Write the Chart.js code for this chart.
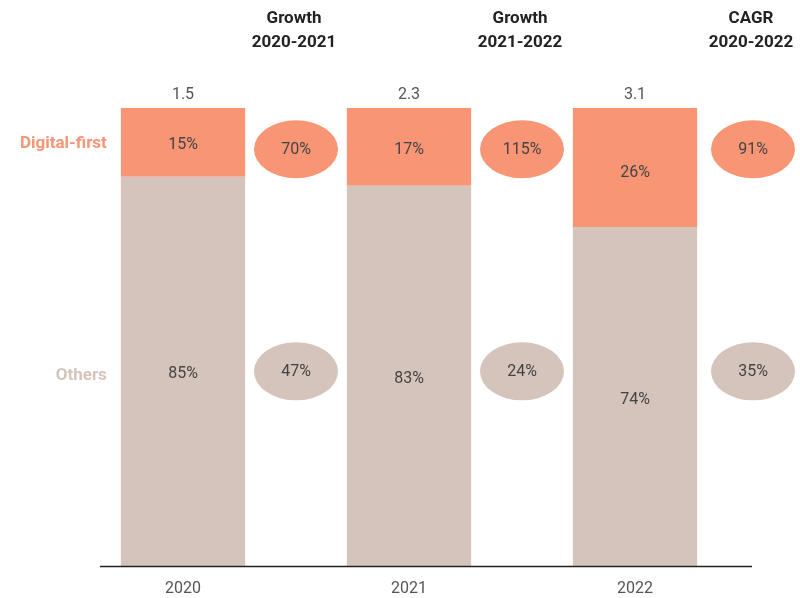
<!DOCTYPE html>
<html>
<head>
<meta charset="utf-8">
<script src="https://cdn.jsdelivr.net/npm/chart.js@4.4.0/dist/chart.umd.min.js"></script>
<style>
  body { margin: 0; background: #fff; }
  #wrap { width: 800px; height: 598px; position: relative; }
</style>
</head>
<body>
<div id="wrap"><canvas id="chart"></canvas></div>
<script>
const years = ['2020', '2021', '2022'];
const digitalShare = [15, 17, 26];
const othersShare = [85, 83, 74];
const totals = ['1.5', '2.3', '3.1'];
const headerTop = ['Growth', 'Growth', 'CAGR'];
const headerBottom = ['2020-2021', '2021-2022', '2020-2022'];
const digitalGrowth = ['70%', '115%', '91%'];
const othersGrowth = ['47%', '24%', '35%'];

const SALMON = '#F79575';
const TAN = '#D5C4BB';
const FONT = 'Roboto, "Liberation Sans", sans-serif';

const annotations = {
    id: 'annotations',
    afterDatasetsDraw(chart) {
        const ctx = chart.ctx;
        const x = chart.scales.x;
        const y = chart.scales.y;
        const area = chart.chartArea;
        const step = x.getPixelForValue(1) - x.getPixelForValue(0);

        ctx.save();
        ctx.textAlign = 'center';
        ctx.textBaseline = 'middle';

        // segment labels
        chart.data.datasets.forEach((ds, di) => {
            const meta = chart.getDatasetMeta(di);
            meta.data.forEach((bar, i) => {
                const mid = (bar.y + bar.base) / 2;
                ctx.fillStyle = '#444';
                ctx.font = '16px ' + FONT;
                ctx.fillText(ds.data[i] + '%', bar.x, mid + (di === 1 && i === 2 ? 5 : 3));
            });
        });

        // totals above bars
        years.forEach((_, i) => {
            ctx.fillStyle = '#555';
            ctx.font = '16px ' + FONT;
            ctx.fillText(totals[i], x.getPixelForValue(i), area.top - 13);
        });

        // growth headers and ellipses
        const rowDigital = y.getPixelForValue(91);
        const rowOthers = y.getPixelForValue(42.5);
        years.forEach((_, i) => {
            const cx = x.getPixelForValue(i) + step / 2 + (i === 2 ? 5 : 0);
            ctx.fillStyle = '#222';
            ctx.font = 'bold 17px ' + FONT;
            ctx.fillText(headerTop[i], cx - 2, 19);
            ctx.fillText(headerBottom[i], cx - 2, 43);

            [[rowDigital, SALMON, digitalGrowth[i]], [rowOthers, TAN, othersGrowth[i]]].forEach(([cy, col, txt]) => {
                ctx.beginPath();
                ctx.ellipse(cx, cy, 42, 29, 0, 0, Math.PI * 2);
                ctx.fillStyle = col;
                ctx.fill();
                ctx.fillStyle = '#444';
                ctx.font = '16px ' + FONT;
                ctx.fillText(txt, cx, cy + 1);
            });
        });

        // row labels on the left
        const first = chart.getDatasetMeta(1).data[0];
        const firstO = chart.getDatasetMeta(0).data[0];
        ctx.textAlign = 'right';
        ctx.font = 'bold 17px ' + FONT;
        ctx.fillStyle = SALMON;
        ctx.fillText('Digital-first', first.x - first.width / 2 - 14, (first.y + first.base) / 2 + 1);
        ctx.fillStyle = TAN;
        ctx.fillText('Others', firstO.x - firstO.width / 2 - 14, (firstO.y + firstO.base) / 2 + 4);

        // baseline
        ctx.beginPath();
        ctx.strokeStyle = '#222';
        ctx.lineWidth = 1.5;
        ctx.moveTo(area.left + 30, area.bottom + 0.5);
        ctx.lineTo(area.right + 4, area.bottom + 0.5);
        ctx.stroke();
        ctx.restore();
    }
};

new Chart(document.getElementById('chart').getContext('2d'), {
    type: 'bar',
    data: {
        labels: years,
        datasets: [
            { label: 'Others', data: othersShare, backgroundColor: TAN },
            { label: 'Digital-first', data: digitalShare, backgroundColor: SALMON }
        ]
    },
    options: {
        responsive: true,
        maintainAspectRatio: false,
        animation: false,
        layout: { padding: { top: 108, left: 70, right: 52, bottom: 2 } },
        datasets: { bar: { categoryPercentage: 1, barPercentage: 0.55 } },
        plugins: {
            legend: { display: false },
            tooltip: { enabled: false }
        },
        scales: {
            x: {
                stacked: true,
                grid: { display: false },
                border: { display: false },
                ticks: { color: '#555', font: { family: FONT, size: 16 }, padding: 5 },
                afterFit(scale) { scale.height = 30; }
            },
            y: {
                stacked: true,
                display: false,
                min: 0,
                max: 100
            }
        }
    },
    plugins: [annotations]
});
</script>
</body>
</html>
